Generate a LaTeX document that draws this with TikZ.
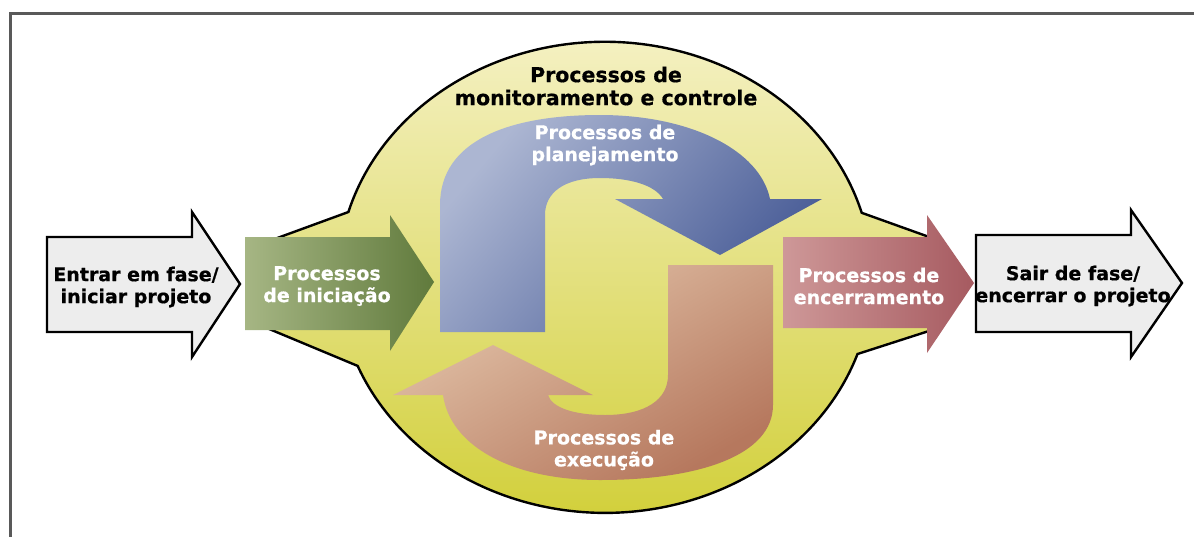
\documentclass[tikz,border=0pt]{standalone}
\usepackage{fontspec}
\setmainfont{DejaVu Sans}[BoldFeatures={FakeBold=0.6}]

\definecolor{blobLight}{RGB}{246,242,200}
\definecolor{blobMid}{RGB}{237,229,132}
\definecolor{blobDark}{RGB}{208,206,52}
\definecolor{iniLight}{RGB}{166,182,132}
\definecolor{iniDark}{RGB}{96,122,60}
\definecolor{planLight}{RGB}{172,182,210}
\definecolor{planDark}{RGB}{68,88,148}
\definecolor{execLight}{RGB}{228,198,172}
\definecolor{execDark}{RGB}{182,120,94}
\definecolor{encLight}{RGB}{206,152,152}
\definecolor{encDark}{RGB}{166,90,96}
\definecolor{gateFill}{RGB}{237,237,237}

\tikzset{
  gate/.style={draw=black, line width=2.4pt, fill=gateFill, line join=miter},
  phase/.style={font=\bfseries\fontsize{19}{22}\selectfont, align=center,
    text=white, inner sep=0pt},
  gatetext/.style={phase, text=black},
  title/.style={font=\bfseries\fontsize{20.5}{23}\selectfont, align=center,
    inner sep=0pt},
}

\begin{document}
\begin{tikzpicture}[x=1pt, y=-1pt]
  \useasboundingbox (0,0) rectangle (1194,536);
  % frame
  \draw [line width=3pt, black!65] (10,540) -- (10,13) -- (1200,13);

  % monitoring blob
  \draw [line width=2.4pt, top color=blobLight, middle color=blobMid, bottom color=blobDark]
    (250,248) -- (348.4,212)
    arc [start angle=196.1, end angle=344.1, x radius=267, y radius=235.5]
    -- (932,238) -- (932,330) -- (857.5,354)
    arc [start angle=19, end angle=157.9, x radius=267, y radius=235.5]
    -- (262,326) -- cycle;

  % planning loop
  \path [top color=planLight, bottom color=planDark, shading angle=50]
    (440,332) -- (440,205) .. controls (440,140) and (510,115) .. (600,115)
    .. controls (690,115) and (760,150) .. (770,199) -- (822,199) -- (720,255)
    -- (615,199) -- (663,199) .. controls (655,185) and (630,178) .. (600,178)
    .. controls (565,178) and (545,192) .. (545,215) -- (545,332) -- cycle;

  % execution loop
  \path [top color=execLight, bottom color=execDark, shading angle=30]
    (668,265) -- (773,265) -- (773,405) .. controls (773,455) and (700,480) .. (600,480)
    .. controls (510,480) and (450,445) .. (443,395) -- (393,395) -- (493,345)
    -- (593,395) -- (548,395) .. controls (552,408) and (575,415) .. (605,415)
    .. controls (645,415) and (668,400) .. (668,375) -- cycle;

  % initiating and closing
  \path [left color=iniLight, right color=iniDark]
    (245,237) -- (390,237) -- (390,215) -- (434,282) -- (390,351) -- (390,330) -- (245,330) -- cycle;
  \path [left color=encLight, right color=encDark]
    (783,237) -- (927,237) -- (927,215) -- (974,283) -- (927,353) -- (927,328) -- (783,328) -- cycle;

  % enter and exit
  \draw [gate] (47,237) -- (192,237) -- (192,212) -- (240,284) -- (192,357) -- (192,332) -- (47,332) -- cycle;
  \draw [gate] (976,235) -- (1131,235) -- (1131,210) -- (1182,283) -- (1131,357) -- (1131,332) -- (976,332) -- cycle;

  \node [title] (monitor) at (606,86) {Processos de\\monitoramento e controle};
  \node [phase] (plan) at (605,145) {Processos de\\planejamento};
  \node [phase] (exec) at (604,450) {Processos de\\execução};
  \node [phase] (ini) at (327,286) {Processos\\de iniciação};
  \node [phase] (enc) at (869,286) {Processos de\\encerramento};
  \node [gatetext] (enter) at (136,287) {Entrar em fase/\\iniciar projeto};
  \node [gatetext] (leave) at (1073,286) {Sair de fase/\\encerrar o projeto};
\end{tikzpicture}
\end{document}
